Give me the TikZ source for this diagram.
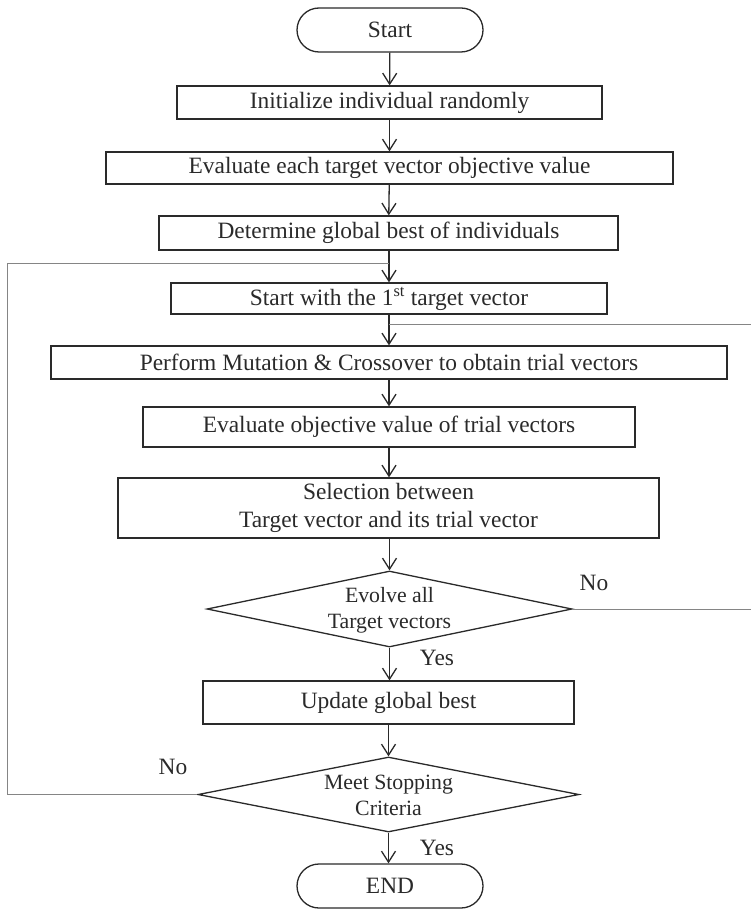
\documentclass[tikz,border=0pt]{standalone}
\usepackage{fontspec}
\setmainfont{Liberation Serif}
\usetikzlibrary{shapes.geometric,arrows.meta}
\definecolor{ink}{HTML}{2A2A2A}
\definecolor{loopgray}{HTML}{858585}
\begin{document}
\begin{tikzpicture}[x=1pt,y=-1pt,
  every node/.style={text=ink},
  txt/.style={font=\fontsize{23.4}{28}\selectfont},
  dtxt/.style={font=\fontsize{21.8}{26}\selectfont, align=center},
  procbox/.style={draw=ink, line width=1.3pt, rectangle, inner sep=0pt, txt, align=center},
  termbox/.style={draw=ink, line width=1.3pt, rectangle, rounded corners=22pt, inner sep=0pt, txt,
     minimum width=186pt, minimum height=44pt},
  decbox/.style={draw=ink, line width=1.3pt, diamond, inner sep=0pt},
  flow/.style={draw=ink, line width=1.3pt, -{Straight Barb[length=11pt,width=14pt,line width=1.3pt]}},
  loopline/.style={draw=loopgray, line width=1pt},
  lbl/.style={txt, inner sep=0pt}]
\useasboundingbox (0,0) rectangle (751,909);
\fill[white] (0,0) rectangle (751,909);

\node[termbox] (start) at (390,30) {Start};
\node[procbox, minimum width=425pt, minimum height=33pt] (init) at (389.5,102.5) {Initialize individual randomly};
\node[procbox, minimum width=567pt, minimum height=32pt] (evalt) at (389.5,168) {Evaluate each target vector objective value};
\node[procbox, minimum width=459pt, minimum height=34pt] (det) at (388.5,233) {Determine global best of individuals};
\node[procbox, minimum width=436pt, minimum height=31pt] (first) at (389,298.5) {Start with the 1\textsuperscript{st} target vector};
\node[procbox, minimum width=676pt, minimum height=33pt] (mut) at (389,362.5) {Perform Mutation \& Crossover to obtain trial vectors};
\node[procbox, minimum width=492pt, minimum height=40pt] (evalo) at (389,427) {Evaluate objective value of trial vectors};
\node[procbox, minimum width=541pt, minimum height=60pt, font=\fontsize{23.4}{28}\selectfont] (sel) at (388.5,508) {Selection between\\Target vector and its trial vector};
\node[decbox, minimum width=365pt, minimum height=76pt] (d1) at (389.5,609) {};
\node[dtxt] (d1t) at (389.5,610) {Evolve all\\Target vectors};
\node[procbox, minimum width=371pt, minimum height=43pt] (upd) at (388.5,702.5) {Update global best};
\node[decbox, minimum width=381pt, minimum height=75pt] (d2) at (388.5,794.5) {};
\node[dtxt] (d2t) at (388.5,795.5) {Meet Stopping\\Criteria};
\node[termbox] (end) at (390,886) {END};

% labels
\node[lbl] (no1) at (594,583) {No};
\node[lbl] (yes1) at (437,658) {Yes};
\node[lbl] (no2) at (173,767) {No};
\node[lbl] (yes2) at (437,848) {Yes};

% main flow
\draw[flow] (start) -- (init);
\draw[flow] (init) -- (evalt);
\draw[flow] (evalt) -- (det);
\draw[flow] (det.south -| first.north) -- (first);
\draw[flow] (first) -- (mut);
\draw[flow] (mut) -- (evalo);
\draw[flow] (evalo) -- (sel.north -| evalo.south);
\draw[flow] (sel.south -| d1.north) -- (d1);
\draw[flow] (d1) -- (upd.north -| d1.south);
\draw[flow] (upd.south -| d2.north) -- (d2);
\draw[flow] (d2.south) -- (end.north -| d2.south);

% feedback loops
\coordinate (rj) at (389,324);
\coordinate (rt) at (753,324);
\coordinate (rb) at (753,609);
\draw[loopline] (d1.east) -- (rb) -- (rt) -- (rj);
\coordinate (lj) at (389,263);
\coordinate (lt) at (7,263);
\coordinate (lb) at (7,794.5);
\draw[loopline] (d2.west) -- (lb) -- (lt) -- (lj);
\end{tikzpicture}
\end{document}
